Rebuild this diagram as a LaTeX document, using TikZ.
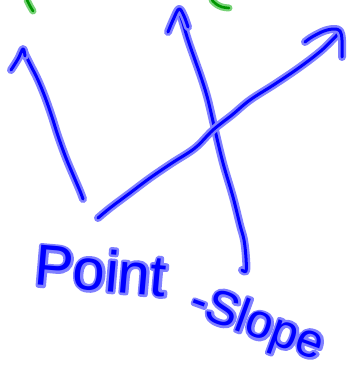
\documentclass[tikz,border=0pt]{standalone}
\usepackage{fontspec}
\setmainfont{Liberation Sans}
\definecolor{inkB}{RGB}{0,0,255}
\definecolor{glowB}{RGB}{128,128,255}
\definecolor{inkG}{RGB}{0,150,0}
\definecolor{glowG}{RGB}{120,210,120}
\tikzset{
  glowstroke/.style={draw=glowB, line width=8pt, line cap=round, line join=round},
  corestroke/.style={draw=inkB, line width=3pt, line cap=round, line join=round},
  glowgreen/.style={draw=glowG, line width=7pt, line cap=round, line join=round},
  coregreen/.style={draw=inkG, line width=2.6pt, line cap=round, line join=round},
  handtext/.style={inner sep=0pt, text=inkB},
}
\newcommand{\inkstroke}[1]{%
  \draw[glowstroke] plot[smooth, tension=0.6] coordinates {#1};
  \draw[corestroke] plot[smooth, tension=0.6] coordinates {#1};}
\newcommand{\greenstroke}[1]{%
  \draw[glowgreen] plot[smooth, tension=0.6] coordinates {#1};
  \draw[coregreen] plot[smooth, tension=0.6] coordinates {#1};}
\newcommand{\glowtext}[1]{%
  \rlap{\special{pdf:literal direct 1 Tr 0.5 0.5 1 RG 5 w 1 j 1 J}#1\special{pdf:literal direct 0 Tr}}#1}
\begin{document}
\begin{tikzpicture}[x=1pt,y=-1pt]
\useasboundingbox[fill=white] (0,0) rectangle (349,372);
% green marks at the top
\greenstroke{(27,0) (30,6) (33,11)}
\greenstroke{(212,0) (216,4) (222,7) (229,8)}
% left arrow
\inkstroke{(83,199) (80,191) (74,177) (66,158) (58,136) (52,117) (45,97) (38,80) (31,66) (24,52)}
\inkstroke{(11,70) (18,59) (23,49) (25,56)}
% near-vertical arrow
\inkstroke{(242,270) (246,271) (246,258) (244,240) (240,225) (233,197) (223,163) (215,130) (208,100) (202,80) (195,60) (188,40) (182,20) (178,10)}
\inkstroke{(168,32) (173,20) (179,9) (184,16) (188,27)}
% diagonal arrow
\inkstroke{(98,218) (110,208) (130,193) (150,178) (172,163) (195,148) (213,130) (232,115) (250,100) (275,84) (300,67) (322,50) (338,34)}
\inkstroke{(305,42) (312,37) (324,31) (334,29) (340,31) (342,40) (342,57)}
% handwritten label
\node[handtext, rotate=-5, font=\fontsize{58}{60}\selectfont] (point) at (101,270) {\glowtext{Point}};
\node[handtext, rotate=-20, font=\fontsize{48}{52}\selectfont] (slope) at (257,325) {\glowtext{-Slope}};
\end{tikzpicture}
\end{document}
